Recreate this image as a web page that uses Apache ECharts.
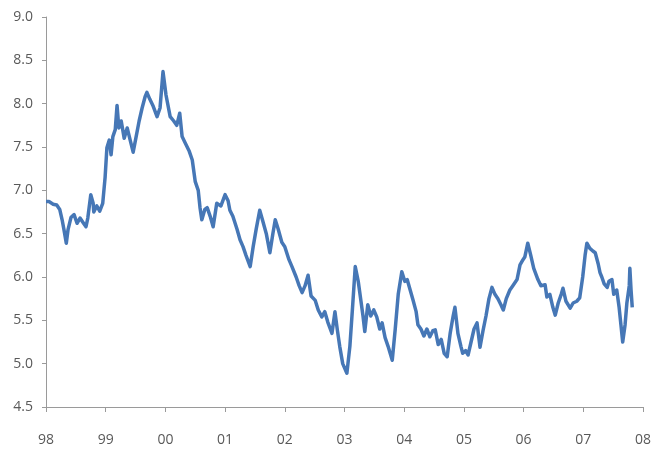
<!DOCTYPE html>
<html>
<head>
<meta charset="utf-8">
<script src="https://cdn.jsdelivr.net/npm/echarts@6/dist/echarts.min.js"></script>
<style>
  html, body { margin: 0; padding: 0; background: #fff; }
  #chart { width: 654px; height: 459px; }
</style>
</head>
<body>
<div id="chart"></div>
<script>
// decimal year of each reading, and the rate
const years = [
  1998.00, 1998.05, 1998.12, 1998.18, 1998.23, 1998.27, 1998.30, 1998.34, 1998.37, 1998.42,
  1998.47, 1998.52, 1998.57, 1998.62, 1998.67, 1998.70, 1998.75, 1998.79, 1998.80, 1998.85,
  1998.90, 1998.95, 1998.99, 1999.02, 1999.06, 1999.09, 1999.12, 1999.16, 1999.19, 1999.22,
  1999.26, 1999.31, 1999.36, 1999.41, 1999.46, 1999.51, 1999.56, 1999.61, 1999.66, 1999.69,
  1999.74, 1999.79, 1999.86, 1999.91, 1999.96, 2000.01, 2000.08, 2000.14, 2000.19, 2000.24,
  2000.28, 2000.33, 2000.40, 2000.45, 2000.50, 2000.55, 2000.58, 2000.61, 2000.66, 2000.70,
  2000.75, 2000.80, 2000.86, 2000.93, 2001.00, 2001.05, 2001.08, 2001.13, 2001.20, 2001.25,
  2001.30, 2001.35, 2001.42, 2001.47, 2001.52, 2001.58, 2001.63, 2001.69, 2001.75, 2001.80,
  2001.84, 2001.89, 2001.95, 2002.00, 2002.07, 2002.12, 2002.19, 2002.24, 2002.29, 2002.34,
  2002.39, 2002.44, 2002.51, 2002.56, 2002.62, 2002.67, 2002.72, 2002.79, 2002.84, 2002.88,
  2002.92, 2002.97, 2003.04, 2003.09, 2003.13, 2003.18, 2003.23, 2003.26, 2003.31, 2003.34,
  2003.39, 2003.44, 2003.49, 2003.54, 2003.59, 2003.63, 2003.68, 2003.73, 2003.80, 2003.85,
  2003.90, 2003.96, 2004.01, 2004.05, 2004.10, 2004.15, 2004.20, 2004.23, 2004.28, 2004.33,
  2004.38, 2004.43, 2004.48, 2004.52, 2004.57, 2004.62, 2004.67, 2004.72, 2004.77, 2004.82,
  2004.85, 2004.90, 2004.95, 2004.98, 2005.03, 2005.07, 2005.12, 2005.17, 2005.22, 2005.27,
  2005.32, 2005.37, 2005.42, 2005.47, 2005.52, 2005.57, 2005.62, 2005.66, 2005.71, 2005.77,
  2005.82, 2005.89, 2005.94, 2005.99, 2006.02, 2006.07, 2006.12, 2006.17, 2006.24, 2006.29,
  2006.36, 2006.39, 2006.44, 2006.49, 2006.53, 2006.58, 2006.63, 2006.66, 2006.71, 2006.78,
  2006.83, 2006.89, 2006.94, 2006.99, 2007.03, 2007.06, 2007.11, 2007.16, 2007.20, 2007.25,
  2007.28, 2007.31, 2007.35, 2007.40, 2007.43, 2007.48, 2007.51, 2007.56, 2007.60, 2007.63,
  2007.66, 2007.70, 2007.73, 2007.77, 2007.78, 2007.80, 2007.82
];

const rates = [
  6.87, 6.87, 6.84, 6.83, 6.78, 6.66, 6.55, 6.39, 6.55, 6.69,
  6.72, 6.62, 6.68, 6.63, 6.58, 6.68, 6.95, 6.85, 6.75, 6.82,
  6.76, 6.85, 7.15, 7.49, 7.58, 7.41, 7.62, 7.70, 7.98, 7.72,
  7.80, 7.60, 7.72, 7.58, 7.44, 7.62, 7.80, 7.95, 8.08, 8.13,
  8.05, 7.98, 7.85, 7.95, 8.37, 8.10, 7.85, 7.80, 7.75, 7.89,
  7.62, 7.55, 7.45, 7.35, 7.10, 7.00, 6.80, 6.66, 6.78, 6.80,
  6.70, 6.58, 6.85, 6.82, 6.95, 6.88, 6.77, 6.70, 6.55, 6.43,
  6.35, 6.25, 6.12, 6.35, 6.55, 6.77, 6.65, 6.50, 6.28, 6.50,
  6.66, 6.55, 6.40, 6.35, 6.20, 6.12, 6.00, 5.90, 5.82, 5.90,
  6.02, 5.78, 5.73, 5.62, 5.54, 5.60, 5.48, 5.35, 5.60, 5.39,
  5.20, 5.00, 4.89, 5.20, 5.60, 6.12, 5.95, 5.97, 5.55, 5.37,
  5.68, 5.55, 5.62, 5.54, 5.40, 5.47, 5.30, 5.20, 5.04, 5.40,
  5.80, 6.06, 5.95, 5.97, 5.85, 5.73, 5.60, 5.45, 5.40, 5.32,
  5.40, 5.31, 5.38, 5.39, 5.22, 5.28, 5.12, 5.08, 5.35, 5.55,
  5.65, 5.35, 5.20, 5.12, 5.15, 5.10, 5.25, 5.40, 5.47, 5.19,
  5.38, 5.55, 5.75, 5.88, 5.80, 5.75, 5.68, 5.62, 5.75, 5.85,
  5.90, 5.97, 6.14, 6.20, 6.23, 6.39, 6.25, 6.10, 5.97, 5.90,
  5.91, 5.77, 5.80, 5.65, 5.56, 5.70, 5.80, 5.87, 5.72, 5.64,
  5.70, 5.72, 5.76, 6.00, 6.25, 6.39, 6.33, 6.30, 6.28, 6.15,
  6.05, 6.00, 5.92, 5.88, 5.95, 5.97, 5.80, 5.85, 5.65, 5.45,
  5.25, 5.45, 5.70, 5.90, 6.10, 5.85, 5.65
];

const chart = echarts.init(document.getElementById("chart"), null, { renderer: "canvas" });

const axisColor = "#9a9a9a";
const labelStyle = { color: "#595959", fontSize: 14, fontFamily: "Open Sans, sans-serif" };

chart.setOption({
  backgroundColor: "#fff",
  animation: false,
  grid: { left: 46, right: 11, top: 17, bottom: 52 },
  xAxis: {
    type: "value",
    min: 1998,
    max: 2008,
    interval: 1,
    splitLine: { show: false },
    axisLine: { lineStyle: { color: axisColor, width: 1 } },
    axisTick: { show: true, length: 5, lineStyle: { color: axisColor } },
    axisLabel: {
      ...labelStyle,
      margin: 26,
      formatter: (v) => String(Math.round(v) % 100).padStart(2, "0"),
    },
  },
  yAxis: {
    type: "value",
    min: 4.5,
    max: 9,
    interval: 0.5,
    splitLine: { show: false },
    axisLine: { show: true, lineStyle: { color: axisColor, width: 1 } },
    axisTick: { show: true, length: 4, lineStyle: { color: axisColor } },
    axisLabel: { ...labelStyle, margin: 13, formatter: (v) => v.toFixed(1) },
  },
  series: [
    {
      type: "line",
      data: years.map((y, i) => [y, rates[i]]),
      showSymbol: false,
      lineStyle: { color: "#4677b6", width: 3.5, join: "round" },
    },
  ],
});
</script>
</body>
</html>
